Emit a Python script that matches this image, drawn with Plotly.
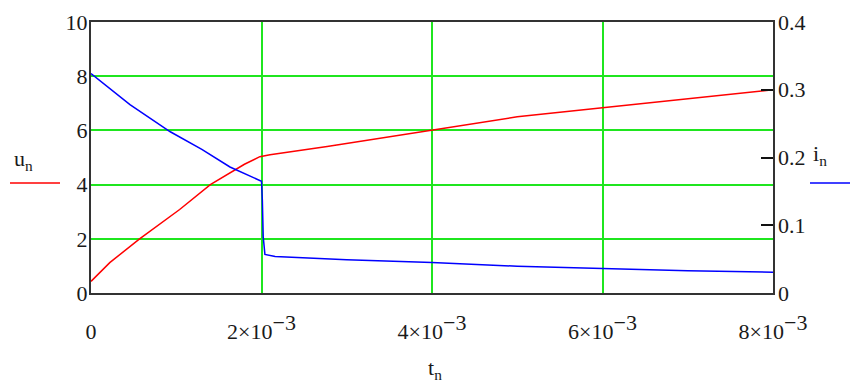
import plotly.graph_objects as go

# time samples (seconds) and values
t_u = [0, 0.22e-3, 0.57e-3, 1.04e-3, 1.40e-3, 1.80e-3, 1.98e-3, 2.10e-3, 2.77e-3, 4.0e-3, 5.0e-3, 6.0e-3, 7.0e-3, 8.0e-3]
u_n = [0.43, 1.12, 2.0, 3.08, 4.0, 4.75, 5.03, 5.10, 5.41, 6.02, 6.50, 6.84, 7.17, 7.50]

t_i = [0, 0.457e-3, 0.93e-3, 1.30e-3, 1.63e-3, 1.98e-3, 2.0e-3, 2.01e-3, 2.02e-3, 2.04e-3, 2.16e-3, 3.0e-3, 4.0e-3, 5.0e-3, 6.0e-3, 7.0e-3, 8.0e-3]
i_n = [0.324, 0.278, 0.238, 0.212, 0.186, 0.167, 0.165, 0.137, 0.083, 0.057, 0.054, 0.049, 0.045, 0.0395, 0.0357, 0.033, 0.0307]

FS = 22
SUP = "<sup><span style='font-size:%dpx'>−3</span></sup>" % FS
x_tickvals = [0, 2e-3, 4e-3, 6e-3, 8e-3]
x_ticktext = ["0", "2×10" + SUP, "4×10" + SUP, "6×10" + SUP, "8×10" + SUP]
y_tickvals = [0, 2, 4, 6, 8, 10]
y2_tickvals = [0, 0.1, 0.2, 0.3, 0.4]
y2_ticktext = ["0", "0.1", "0.2", "0.3", "0.4"]

FONT = "Liberation Serif"
GRID = "#1fe61f"
FRAME = "#333333"
TXT = "#1a1a1a"

fig = go.Figure()
fig.add_trace(go.Scatter(x=t_u, y=u_n, mode="lines", line=dict(color="#ff0000", width=1.5), yaxis="y"))
fig.add_trace(go.Scatter(x=t_i, y=i_n, mode="lines", line=dict(color="#0000ff", width=1.5), yaxis="y2"))

fig.update_layout(
    width=850, height=383,
    margin=dict(l=91, r=77, t=22, b=90, autoexpand=False),
    paper_bgcolor="white", plot_bgcolor="white",
    showlegend=False,
    font=dict(family=FONT, size=FS, color=TXT),
    xaxis=dict(range=[0, 8e-3], tickvals=x_tickvals, ticktext=x_ticktext, automargin=False,
               showgrid=True, gridcolor=GRID, gridwidth=1.5, zeroline=False,
               showline=True, mirror=True, linecolor=FRAME, linewidth=2,
               ticks="", ticklabelstandoff=18),
    yaxis=dict(range=[0, 10], tickvals=y_tickvals, automargin=False,
               showgrid=True, gridcolor=GRID, gridwidth=1.5, zeroline=False,
               showline=True, mirror=True, linecolor=FRAME, linewidth=2,
               ticks="", ticklabelstandoff=-3),
    yaxis2=dict(range=[0, 0.4], tickvals=y2_tickvals, ticktext=y2_ticktext, automargin=False,
                overlaying="y", side="right", showgrid=False, zeroline=False,
                showline=False, ticks="inside", ticklen=12, tickwidth=2, tickcolor="#111111",
                ticklabelstandoff=4),
)

# convert pixel placements to paper coords
L, R, T, B = 91, 773, 22, 293
def px(x):
    return (x - L) / (R - L)
def py(y):
    return (B - y) / (B - T)

# axis/legend labels
fig.add_annotation(text="u<sub>n</sub>", x=px(12), y=py(144), xref="paper", yref="paper",
                   xanchor="left", yanchor="top", showarrow=False, font=dict(family=FONT, size=FS, color=TXT))
fig.add_annotation(text="i<sub>n</sub>", x=px(811), y=py(139), xref="paper", yref="paper",
                   xanchor="left", yanchor="top", showarrow=False, font=dict(family=FONT, size=FS, color=TXT))
fig.add_annotation(text="t<sub>n</sub>", x=px(426), y=py(353), xref="paper", yref="paper",
                   xanchor="left", yanchor="top", showarrow=False, font=dict(family=FONT, size=FS, color=TXT))

fig.add_shape(type="line", xref="paper", yref="paper", x0=px(10), x1=px(60), y0=py(183), y1=py(183),
              line=dict(color="#ff0000", width=1.5))
fig.add_shape(type="line", xref="paper", yref="paper", x0=px(810), x1=px(850), y0=py(183), y1=py(183),
              line=dict(color="#0000ff", width=1.5))

fig.write_html("out.html", config={"displayModeBar": False},
               post_script="document.body.style.margin='0';document.body.style.overflow='hidden';")
